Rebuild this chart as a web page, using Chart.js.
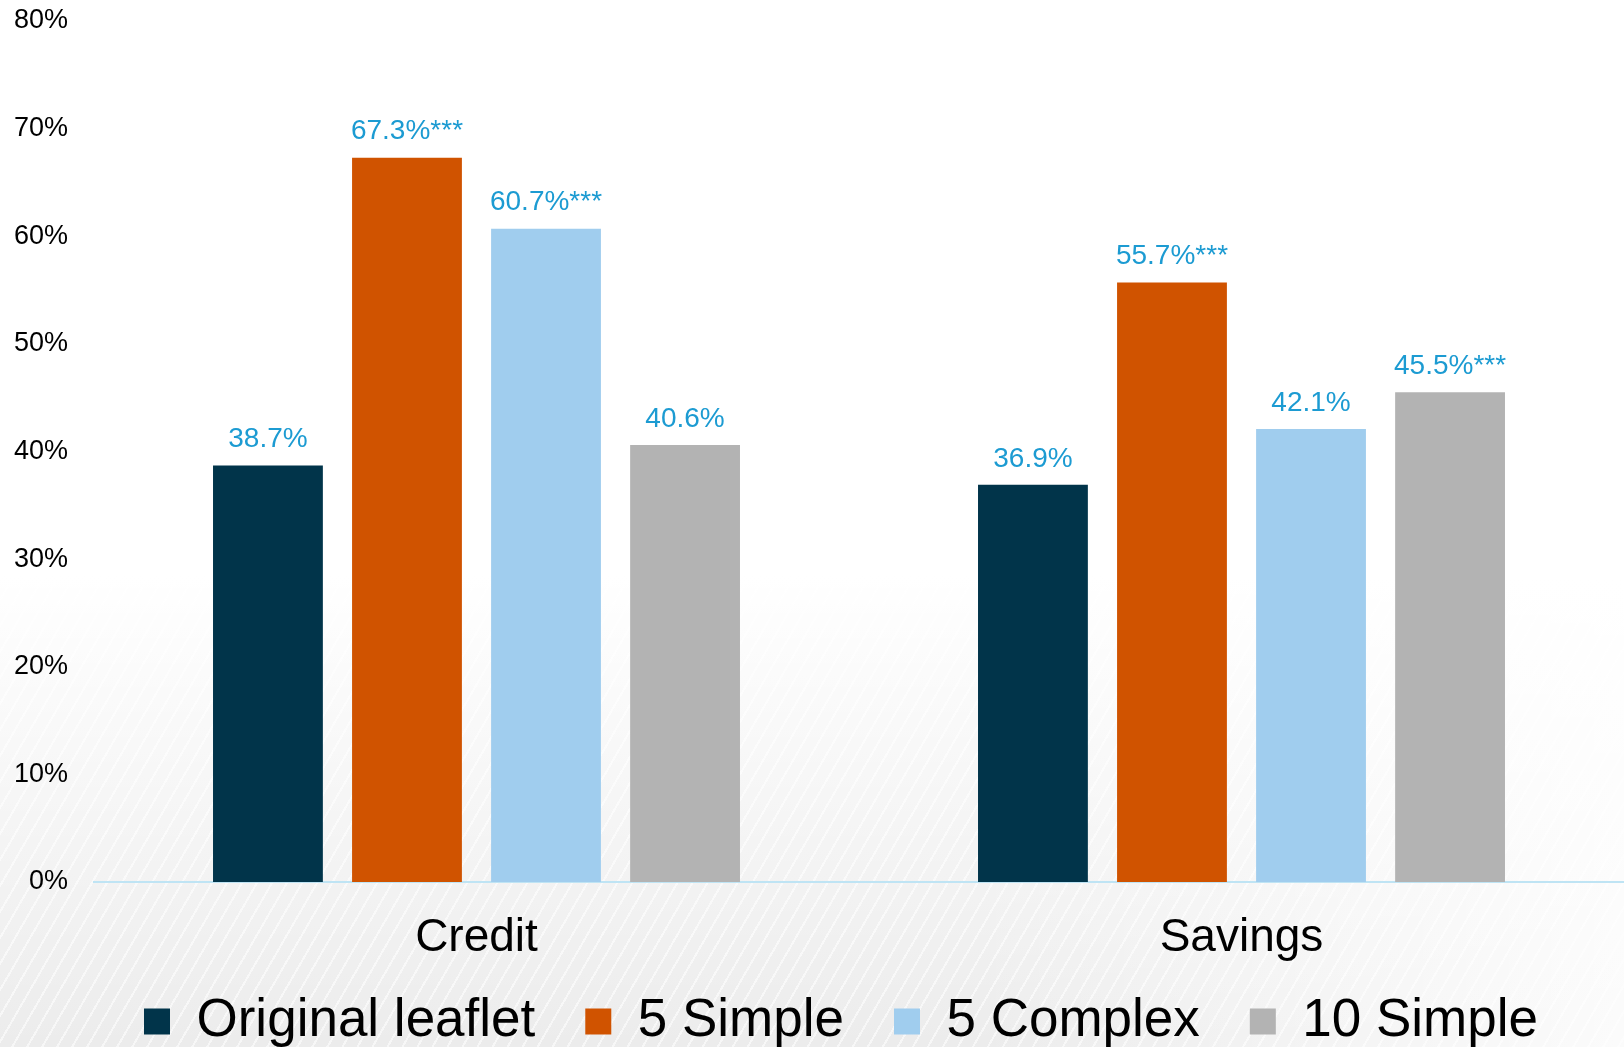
<!DOCTYPE html>
<html>
<head>
<meta charset="utf-8">
<script src="https://cdn.jsdelivr.net/npm/chart.js@4.4.0/dist/chart.umd.min.js"></script>
<style>
  html, body { margin: 0; padding: 0; }
  body {
    width: 1624px; height: 1047px; overflow: hidden;
    background:
      linear-gradient(to bottom, #ffffff 0%, #ffffff 55%, rgba(255,255,255,0) 100%),
      linear-gradient(to right, rgba(255,255,255,0) 0%, rgba(255,255,255,0) 60%, rgba(255,255,255,0.8) 100%),
      repeating-linear-gradient(120deg, rgba(255,255,255,0.6) 0px, rgba(255,255,255,0.6) 2px, rgba(255,255,255,0) 2px, rgba(255,255,255,0) 13px),
      #ececec;
  }
  #wrap { position: relative; width: 1624px; height: 1047px; overflow: hidden; }
</style>
</head>
<body>
<div id="wrap"><canvas id="myChart"></canvas></div>
<script>
var categories = ['Credit', 'Savings'];
var seriesNames = ['Original leaflet', '5 Simple', '5 Complex', '10 Simple'];
var originalLeaflet = [38.7, 36.9];
var simple5 = [67.3, 55.7];
var complex5 = [60.7, 42.1];
var simple10 = [40.6, 45.5];
// significance stars shown after the value
var starsOriginal = ['', ''];
var stars5Simple = ['***', '***'];
var stars5Complex = ['***', ''];
var stars10Simple = ['', '***'];

var colors = ['#01344a', '#d05300', '#a0cdee', '#b3b3b3'];
var fontFamily = '"Liberation Sans", Arial, sans-serif';

var valueLabels = {
    id: 'valueLabels',
    afterDatasetsDraw: function (chart) {
        var c = chart.ctx;
        c.save();
        c.font = '28px ' + fontFamily;
        c.fillStyle = '#1c9bd2';
        c.textAlign = 'center';
        c.textBaseline = 'middle';
        chart.data.datasets.forEach(function (ds, i) {
            chart.getDatasetMeta(i).data.forEach(function (bar, j) {
                c.fillText(ds.data[j].toFixed(1) + '%' + ds.stars[j], bar.x, bar.y - 26);
            });
        });
        c.restore();
    }
};

var ctx = document.getElementById('myChart');

var myChart = new Chart(ctx, {
    type: 'bar',
    data: {
        labels: categories,
        datasets: [
            { label: seriesNames[0], data: originalLeaflet, stars: starsOriginal, backgroundColor: colors[0] },
            { label: seriesNames[1], data: simple5, stars: stars5Simple, backgroundColor: colors[1] },
            { label: seriesNames[2], data: complex5, stars: stars5Complex, backgroundColor: colors[2] },
            { label: seriesNames[3], data: simple10, stars: stars10Simple, backgroundColor: colors[3] }
        ]
    },
    options: {
        responsive: true,
        maintainAspectRatio: false,
        animation: false,
        categoryPercentage: 0.727,
        barPercentage: 0.79,
        layout: { padding: { top: 21, right: -7, left: 0, bottom: -11 } },
        plugins: {
            tooltip: { enabled: false },
            legend: {
                position: 'bottom',
                fullSize: false,
                align: 'start',
                labels: {
                    color: '#000',
                    boxWidth: 26,
                    boxHeight: 26,
                    padding: 50,
                    font: { family: fontFamily, size: 53 }
                }
            }
        },
        scales: {
            x: {
                grid: { display: false },
                border: { display: true, color: '#bfe4f4', width: 2 },
                afterFit: function (scale) { scale.height = 63; },
                ticks: {
                    mirror: true,
                    color: '#000',
                    padding: -84,
                    font: { family: fontFamily, size: 46 }
                }
            },
            y: {
                min: 0,
                max: 80,
                grid: { display: false, drawTicks: false },
                border: { display: false },
                afterFit: function (scale) {
                    scale.width = 94;
                    scale.paddingTop = 0;
                    scale.paddingBottom = 0;
                },
                ticks: {
                    stepSize: 10,
                    color: '#000',
                    padding: 26,
                    font: { family: fontFamily, size: 27 },
                    callback: function (v) { return v + '%'; }
                }
            }
        }
    },
    plugins: [valueLabels]
});
</script>
</body>
</html>
